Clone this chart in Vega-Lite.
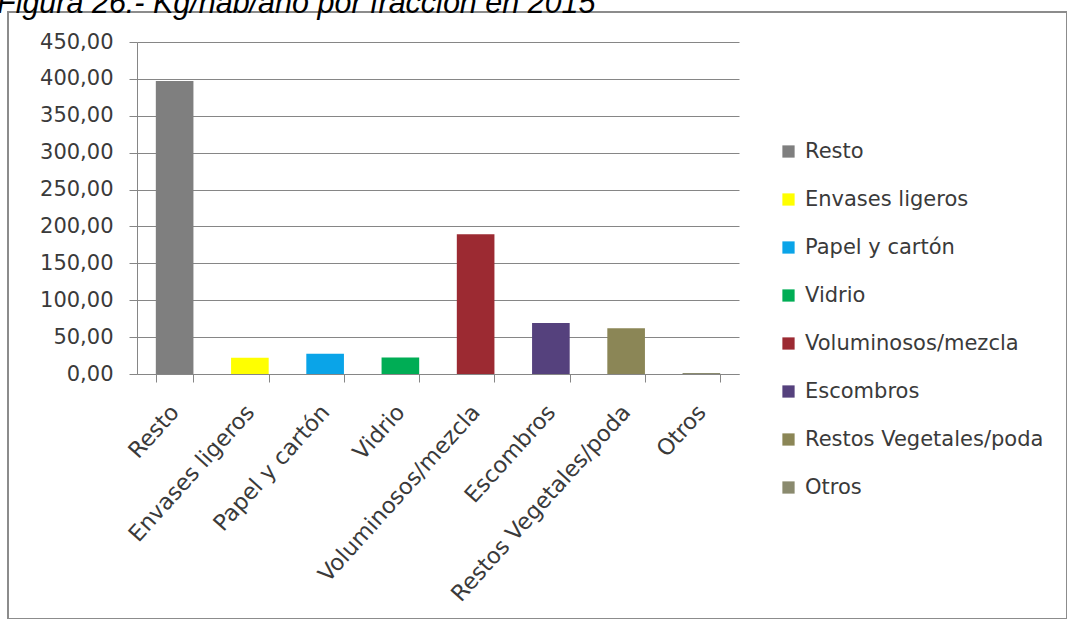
{
  "$schema": "https://vega.github.io/schema/vega-lite/v6.json",
  "width": 1059,
  "height": 607,
  "autosize": "none",
  "padding": {"left": 8, "top": 12, "right": 0, "bottom": 0},
  "background": "white",
  "title": {
    "text": "Figura 26.- Kg/hab/año por fracción en 2015",
    "anchor": "start",
    "frame": "group",
    "dx": -11,
    "offset": -31,
    "baseline": "alphabetic",
    "font": "Liberation Sans",
    "fontStyle": "italic",
    "fontWeight": "normal",
    "fontSize": 30.5,
    "color": "#000000"
  },
  "data": {
    "values": [
      {"fraccion": "Resto", "kg": 397},
      {"fraccion": "Envases ligeros", "kg": 22},
      {"fraccion": "Papel y cartón", "kg": 27.5},
      {"fraccion": "Vidrio", "kg": 22.5},
      {"fraccion": "Voluminosos/mezcla", "kg": 189.5},
      {"fraccion": "Escombros", "kg": 69},
      {"fraccion": "Restos Vegetales/poda", "kg": 62},
      {"fraccion": "Otros", "kg": 1.2}
    ]
  },
  "mark": {"type": "bar"},
  "encoding": {
    "x": {
      "field": "fraccion",
      "type": "nominal",
      "sort": null,
      "scale": {"range": [129, 731], "paddingInner": 0.5, "paddingOuter": 0.25},
      "axis": {
        "title": null,
        "offset": -245,
        "labelAngle": -48,
        "labelAlign": "right",
        "labelBaseline": "middle",
        "labelPadding": 26,
        "labelFont": "DejaVu Sans",
        "labelFontSize": 22.5,
        "labelColor": "#3a3a3a",
        "labelLimit": 400,
        "tickBand": "extent",
        "tickSize": 8,
        "tickColor": "#868686",
        "domainColor": "#868686",
        "grid": false,
        "labelOverlap": false
      }
    },
    "y": {
      "field": "kg",
      "type": "quantitative",
      "scale": {"domain": [0, 450], "nice": false, "range": [362, 30]},
      "axis": {
        "title": null,
        "offset": -129,
        "values": [0, 50, 100, 150, 200, 250, 300, 350, 400, 450],
        "labelExpr": "replace(format(datum.value, '.2f'), '.', ',')",
        "labelFont": "DejaVu Sans",
        "labelFontSize": 21,
        "labelColor": "#3a3a3a",
        "labelPadding": 16,
        "tickSize": 8,
        "tickColor": "#868686",
        "domainColor": "#868686",
        "grid": true,
        "gridColor": "#868686",
        "gridOpacity": 1
      }
    },
    "color": {
      "field": "fraccion",
      "type": "nominal",
      "sort": null,
      "scale": {
        "domain": ["Resto", "Envases ligeros", "Papel y cartón", "Vidrio", "Voluminosos/mezcla", "Escombros", "Restos Vegetales/poda", "Otros"],
        "range": ["#7f7f7f", "#ffff00", "#0aa4e8", "#00ad55", "#9c2a32", "#55417d", "#8b8656", "#8a8a6e"]
      },
      "legend": {
        "title": null,
        "orient": "none",
        "legendX": 770,
        "legendY": 129,
        "symbolType": "square",
        "symbolSize": 150,
        "symbolStrokeWidth": 0,
        "labelFont": "DejaVu Sans",
        "labelFontSize": 21,
        "labelColor": "#3a3a3a",
        "labelOffset": 6,
        "rowPadding": 26,
        "labelLimit": 400
      }
    }
  },
  "config": {
    "view": {"stroke": "#8c8c8c", "strokeWidth": 2, "fill": "white"}
  }
}
